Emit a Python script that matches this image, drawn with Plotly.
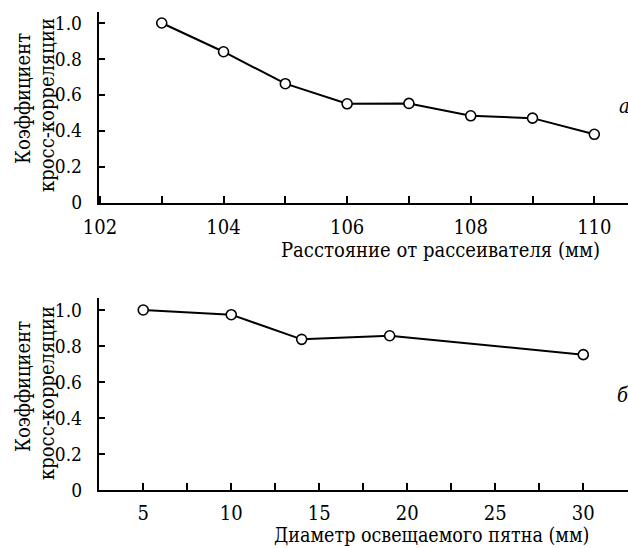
import plotly.graph_objects as go

# Panel a: distance from the scatterer (mm) vs cross-correlation coefficient
dist_mm = [103, 104, 105, 106, 107, 108, 109, 110]
corr_a = [1.0, 0.84, 0.662, 0.55, 0.552, 0.483, 0.47, 0.38]

# Panel b: illuminated spot diameter (mm) vs cross-correlation coefficient
diam_mm = [5, 10, 14, 19, 30]
corr_b = [1.0, 0.974, 0.837, 0.857, 0.752]

y_ticks = [0, 0.2, 0.4, 0.6, 0.8, 1.0]
y_ticktext = ["0", "0.2", "0.4", "0.6", "0.8", "1.0"]
xa_ticks = [102, 104, 106, 108, 110]
xb_ticks = [5, 10, 15, 20, 25, 30]

y_title_lines = ["Коэффициент", "кросс-корреляции"]
xa_title = "Расстояние от рассеивателя (мм)"
xb_title = "Диаметр освещаемого пятна (мм)"
label_a = "а"
label_b = "б"

W, H = 628, 548
FONT = "DejaVu Serif Condensed, DejaVu Serif, serif"
FS_TICK = 20
FS_YTICK = 19
FS_TITLE = 20

marker = dict(symbol="circle", size=10, color="white", line=dict(color="black", width=1.6))
line = dict(color="black", width=2)

fig = go.Figure()
fig.add_trace(go.Scatter(x=dist_mm, y=corr_a, mode="lines+markers", marker=marker, line=line,
                         xaxis="x", yaxis="y", showlegend=False, cliponaxis=False))
fig.add_trace(go.Scatter(x=diam_mm, y=corr_b, mode="lines+markers", marker=marker, line=line,
                         xaxis="x2", yaxis="y2", showlegend=False, cliponaxis=False))

def px_x(p):
    return p / W

def px_y(p):
    return 1 - p / H

axis_common = dict(showline=True, linecolor="black", linewidth=1.8, showgrid=False, zeroline=False,
                   ticks="inside", tickcolor="black", tickwidth=1.5, automargin=False, mirror=False)
xfont = dict(family=FONT, size=FS_TICK, color="black")
yfont = dict(family=FONT, size=FS_YTICK, color="black")

left = 98.7
fig.update_layout(
    width=W, height=H,
    margin=dict(l=0, r=0, t=0, b=0, pad=0),
    paper_bgcolor="white", plot_bgcolor="white",
    font=dict(family=FONT, size=FS_TICK, color="black"),
    xaxis=dict(axis_common, domain=[px_x(left), 1.0], range=[101.98, 110.545], tickfont=xfont,
               tickvals=xa_ticks, ticklen=7, anchor="y", ticklabelstandoff=6,
               minor=dict(ticks="inside", dtick=1, tick0=102, ticklen=7, tickwidth=1.5, tickcolor="black", showgrid=False)),
    yaxis=dict(axis_common, domain=[px_y(202.5), px_y(11.7)], range=[0, 1.063], tickfont=yfont,
               tickvals=y_ticks, ticktext=y_ticktext, ticklen=6, anchor="x", ticklabelstandoff=11),
    xaxis2=dict(axis_common, domain=[px_x(left), 1.0], range=[2.47, 32.54], tickfont=xfont,
                tickvals=xb_ticks, ticklen=7, anchor="y2", ticklabelstandoff=4,
                minor=dict(ticks="inside", dtick=2.5, tick0=2.5, ticklen=7, tickwidth=1.5, tickcolor="black", showgrid=False)),
    yaxis2=dict(axis_common, domain=[px_y(490), px_y(298.3)], range=[0, 1.065], tickfont=yfont,
                tickvals=y_ticks, ticktext=y_ticktext, ticklen=6, anchor="x2", ticklabelstandoff=11),
)

tfont = dict(family=FONT, size=FS_TITLE, color="black")
annotations = []
for dy in (0, 288):
    annotations.append(dict(text=y_title_lines[0], x=px_x(23), y=px_y(99 + dy), xref="paper", yref="paper",
                            textangle=-90, showarrow=False, xanchor="center", yanchor="middle", font=tfont))
    annotations.append(dict(text=y_title_lines[1], x=px_x(47), y=px_y(105 + dy), xref="paper", yref="paper",
                            textangle=-90, showarrow=False, xanchor="center", yanchor="middle", font=tfont))
annotations += [
    dict(text=xa_title, x=px_x(602), y=px_y(250), xref="paper", yref="paper",
         showarrow=False, xanchor="right", yanchor="middle", font=tfont),
    dict(text=xb_title, x=px_x(591), y=px_y(535), xref="paper", yref="paper",
         showarrow=False, xanchor="right", yanchor="middle", font=dict(tfont, size=19.5)),
    dict(text="<i>" + label_a + "</i>", x=px_x(617), y=px_y(106), xref="paper", yref="paper",
         showarrow=False, xanchor="left", yanchor="middle", font=tfont),
    dict(text="<i>" + label_b + "</i>", x=px_x(615), y=px_y(395), xref="paper", yref="paper",
         showarrow=False, xanchor="left", yanchor="middle", font=tfont),
]
fig.update_layout(annotations=annotations)

fig.write_html("out.html", config={"displayModeBar": False},
               post_script="document.body.style.margin='0';")
